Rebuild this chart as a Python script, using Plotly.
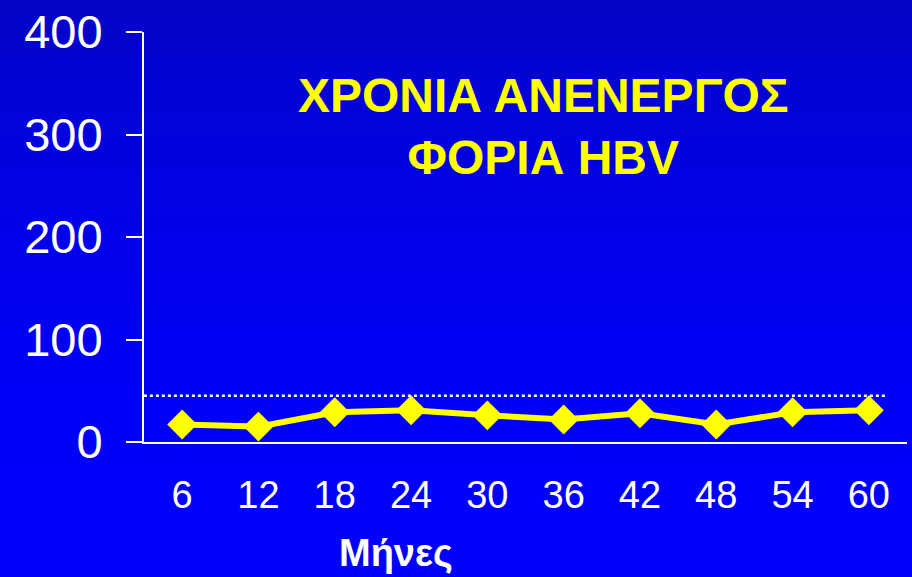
import plotly.graph_objects as go

# data
months = ["6", "12", "18", "24", "30", "36", "42", "48", "54", "60"]
values = [17, 15, 29, 31, 26, 22, 28, 17, 29, 31]
ref_level = 45
y_ticks = [0, 100, 200, 300, 400]
title_lines = ["ΧΡΟΝΙΑ ΑΝΕΝΕΡΓΟΣ", "ΦΟΡΙΑ HBV"]
x_title = "Μήνες"

W, H = 912, 577
ml, mr, mt, mb = 144, 5, 27, 135
pw = W - ml - mr
ph = H - mt - mb

fig = go.Figure()

fig.add_trace(
    go.Scatter(
        x=months,
        y=values,
        mode="lines+markers",
        line=dict(color="#FFFF00", width=6),
        marker=dict(symbol="diamond", size=23, color="#FFFF00"),
        showlegend=False,
        cliponaxis=False,
    )
)

# background gradient, dark blue at top to bright blue at bottom
shapes = []
n = 30
y_bot = -mb / ph - 0.02
y_top = 1 + mt / ph + 0.02
for i in range(n):
    t = (i / (n - 1)) ** 2
    c = int(5 * t)
    b = int(252 - (252 - 200) * t)
    y0 = y_bot + (y_top - y_bot) * i / n
    y1 = y_bot + (y_top - y_bot) * (i + 1) / n + 0.003
    shapes.append(
        dict(
            type="rect", xref="paper", yref="paper",
            x0=-ml / pw - 0.01, x1=1 + mr / pw + 0.01,
            y0=y0, y1=y1,
            fillcolor=f"rgb({c},{c},{b})", line_width=0, layer="below",
        )
    )

# dotted reference line
shapes.append(
    dict(
        type="line", xref="x", yref="y",
        x0=-0.58, x1=9.24, y0=ref_level, y1=ref_level,
        line=dict(color="white", width=2.5, dash="dot"),
    )
)

fig.update_layout(
    width=W,
    height=H,
    margin=dict(l=ml, r=mr, t=mt, b=mb),
    paper_bgcolor="#0000F0",
    plot_bgcolor="rgba(0,0,0,0)",
    shapes=shapes,
    font=dict(family="Liberation Sans, Arial, sans-serif", color="white"),
)

fig.update_xaxes(
    type="category",
    range=[-0.5, len(months) - 0.5],
    showline=True, linecolor="white", linewidth=2,
    showgrid=False, zeroline=False, ticks="",
    tickfont=dict(family="Liberation Sans Narrow, Liberation Sans, sans-serif", size=38, color="white"),
    ticklabelstandoff=18,
)
fig.update_yaxes(
    range=[0, 400],
    tickvals=y_ticks,
    showline=True, linecolor="white", linewidth=2,
    showgrid=False, zeroline=False,
    ticks="outside", ticklen=16, tickwidth=2, tickcolor="white",
    tickfont=dict(size=47, color="white"),
    ticklabelstandoff=14,
)

fig.add_annotation(
    text="<b>" + title_lines[0] + "</b><br><b>" + title_lines[1] + "</b>",
    xref="paper", yref="paper",
    x=(543 - ml) / pw, y=1 - (123 - mt) / ph,
    xanchor="center", yanchor="middle",
    showarrow=False,
    font=dict(family="Liberation Sans, Arial, sans-serif", size=48, color="#FFFF00"),
    align="center",
)

fig.add_annotation(
    text="<b>" + x_title + "</b>",
    xref="paper", yref="paper",
    x=(396 - ml) / pw, y=-(554 - mt - ph) / ph,
    xanchor="center", yanchor="middle",
    showarrow=False,
    font=dict(family="Liberation Sans Narrow, Liberation Sans, sans-serif", size=38, color="white"),
)

fig.write_html(
    "out.html",
    config={"displayModeBar": False},
    post_script="document.body.style.margin='0';document.body.style.background='#0000F0';",
)
